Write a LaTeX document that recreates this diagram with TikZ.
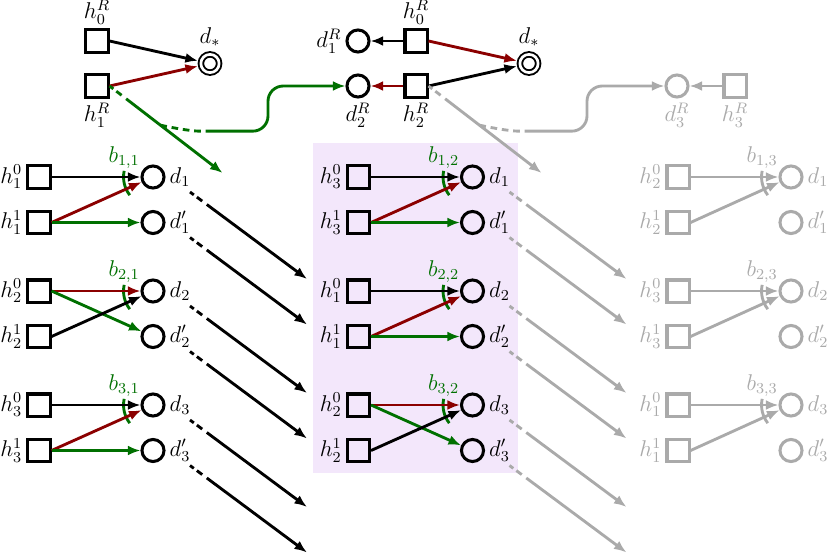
\documentclass[tikz,border=0pt]{standalone}
\usepackage{amsmath,amssymb}
\usepackage{tikz}
\usetikzlibrary{arrows.meta,calc,positioning}
\definecolor{DiagRed}{HTML}{8B0000}
\definecolor{DiagGreen}{HTML}{007000}
\definecolor{DiagGray}{HTML}{AAAAAA}
\definecolor{DiagViolet}{HTML}{F3E7FB}
\tikzset{
    % Larger labels
    every label/.style={font=\large, inner sep=2pt},
    % Square for h nodes
    hbox/.style={
        draw,
        rectangle,
        line width=1.6pt,
        minimum size=11.6pt,
        inner sep=0pt
    },
    % Circle for d nodes
    dcirc/.style={
        draw,
        circle,
        line width=1.6pt,
        minimum size=11.6pt,
        inner sep=0pt
    },
    % Double circle for d_*
    starcirc/.style={
        draw,
        circle,
        double,
        line width=1pt,
        double distance=1.4pt,
        minimum size=9.6pt,
        outer sep=1.7pt,
        inner sep=0pt
    },
    % Arrow styles
    myarrow/.style={
        -{Latex[length=6.6pt,width=5.2pt]},
        line width=1.5pt
    },
    redarrow/.style={
        myarrow,
        draw=DiagRed
    },
    greenarrow/.style={
        myarrow,
        draw=DiagGreen
    },
    % Dashed start of the wrap-around arrows
    wrapdash/.style={
        dash pattern=on 2.5pt off 2pt on 3.5pt off 3pt on 300pt off 1pt
    },
    curvedash/.style={
        dash pattern=on 3.5pt off 2.5pt on 3.5pt off 2.5pt on 3.5pt off 2.5pt on 3.5pt off 2.5pt on 600pt off 1pt
    },
    % Angle mark b
    bmark/.style={
        line width=1.5pt
    },
    blabel/.style={
        above,
        font=\large,
        inner sep=0.5pt
    }
}

\begin{document}
\begin{tikzpicture}[x=0.526pt,y=-0.526pt]
    \useasboundingbox (0,0) rectangle (831,555);
    \fill[DiagViolet] (313,143) rectangle (518,473);

    % top left
    \node[hbox,label=above:{$h_0^R$}] (hRa0) at (97,41) {};
    \node[hbox,label=below:{$h_1^R$}] (hRa1) at (97,86) {};
    \node[starcirc,label=above:{$d_*$}] (dsa) at (210,63.5) {};
    \draw[myarrow] (hRa0.east) -- (dsa);
    \draw[redarrow] (hRa1.east) -- (dsa);

    % top middle
    \node[dcirc,label=left:{$d_1^R$}] (dR1) at (358,41) {};
    \node[hbox,label=above:{$h_0^R$}] (hRb0) at (416,41) {};
    \node[dcirc,label=below:{$d_2^R$}] (dR2) at (358,86) {};
    \node[hbox,label=below:{$h_2^R$}] (hRb2) at (416,86) {};
    \node[starcirc,label=above:{$d_*$}] (dsb) at (529,63.5) {};
    \draw[myarrow] (hRb0) -- (dR1);
    \draw[redarrow] (hRb0.east) -- (dsb);
    \draw[redarrow] (hRb2) -- (dR2);
    \draw[myarrow] (hRb2.east) -- (dsb);

    \coordinate (ta) at ($(hRa1.east)+(113,87)$);
    \draw[greenarrow,wrapdash] (hRa1.east) -- (ta);
    \draw[greenarrow,curvedash,rounded corners=8pt] ($(hRa1.east)!0.45!(ta)$) to[out=-12,in=180] ++(55,6) -| ($(dR2)+(-90,0)$) -- (dR2);

    % column a
    \node[hbox,label=left:{$h_1^0$}] (ha1) at (39,177) {};
    \node[hbox,label=left:{$h_1^1$}] (ha2) at (39,222.5) {};
    \node[hbox,label=left:{$h_2^0$}] (ha3) at (39,291) {};
    \node[hbox,label=left:{$h_2^1$}] (ha4) at (39,336.5) {};
    \node[hbox,label=left:{$h_3^0$}] (ha5) at (39,405) {};
    \node[hbox,label=left:{$h_3^1$}] (ha6) at (39,450.5) {};
    \node[dcirc,label=right:{$d_1$}] (da1) at (153,177) {};
    \node[dcirc,label=right:{$d'_1$}] (da2) at (153,222.5) {};
    \node[dcirc,label=right:{$d_2$}] (da3) at (153,291) {};
    \node[dcirc,label=right:{$d'_2$}] (da4) at (153,336.5) {};
    \node[dcirc,label=right:{$d_3$}] (da5) at (153,405) {};
    \node[dcirc,label=right:{$d'_3$}] (da6) at (153,450.5) {};

    \draw[bmark,DiagGreen] ($(da1)+(168:15.5pt)$) node[blabel] {$b_{1,1}$} arc[start angle=168,end angle=218,radius=15.5pt];
    \draw[bmark,DiagGreen] ($(da3)+(168:15.5pt)$) node[blabel] {$b_{2,1}$} arc[start angle=168,end angle=218,radius=15.5pt];
    \draw[bmark,DiagGreen] ($(da5)+(168:15.5pt)$) node[blabel] {$b_{3,1}$} arc[start angle=168,end angle=218,radius=15.5pt];

    \draw[myarrow] (ha1) -- (da1);
    \draw[redarrow] (ha2.east) -- (da1);
    \draw[greenarrow] (ha2) -- (da2);
    \draw[redarrow] (ha3) -- (da3);
    \draw[greenarrow] (ha3.east) -- (da4);
    \draw[myarrow] (ha4.east) -- (da3);
    \draw[myarrow] (ha5) -- (da5);
    \draw[redarrow] (ha6.east) -- (da5);
    \draw[greenarrow] (ha6) -- (da6);

    \draw[myarrow,wrapdash] ($(da1)+(37,15)$) -- ++(117,87);
    \draw[myarrow,wrapdash] ($(da2)+(37,15)$) -- ++(117,87);
    \draw[myarrow,wrapdash] ($(da3)+(37,15)$) -- ++(117,87);
    \draw[myarrow,wrapdash] ($(da4)+(37,15)$) -- ++(117,87);
    \draw[myarrow,wrapdash] ($(da5)+(37,15)$) -- ++(117,87);
    \draw[myarrow,wrapdash] ($(da6)+(37,15)$) -- ++(117,87);

    % column b
    \node[hbox,label=left:{$h_3^0$}] (hb1) at (358.5,177) {};
    \node[hbox,label=left:{$h_3^1$}] (hb2) at (358.5,222.5) {};
    \node[hbox,label=left:{$h_1^0$}] (hb3) at (358.5,291) {};
    \node[hbox,label=left:{$h_1^1$}] (hb4) at (358.5,336.5) {};
    \node[hbox,label=left:{$h_2^0$}] (hb5) at (358.5,405) {};
    \node[hbox,label=left:{$h_2^1$}] (hb6) at (358.5,450.5) {};
    \node[dcirc,label=right:{$d_1$}] (db1) at (472.5,177) {};
    \node[dcirc,label=right:{$d'_1$}] (db2) at (472.5,222.5) {};
    \node[dcirc,label=right:{$d_2$}] (db3) at (472.5,291) {};
    \node[dcirc,label=right:{$d'_2$}] (db4) at (472.5,336.5) {};
    \node[dcirc,label=right:{$d_3$}] (db5) at (472.5,405) {};
    \node[dcirc,label=right:{$d'_3$}] (db6) at (472.5,450.5) {};

    \draw[bmark,DiagGreen] ($(db1)+(168:15.5pt)$) node[blabel] {$b_{1,2}$} arc[start angle=168,end angle=218,radius=15.5pt];
    \draw[bmark,DiagGreen] ($(db3)+(168:15.5pt)$) node[blabel] {$b_{2,2}$} arc[start angle=168,end angle=218,radius=15.5pt];
    \draw[bmark,DiagGreen] ($(db5)+(168:15.5pt)$) node[blabel] {$b_{3,2}$} arc[start angle=168,end angle=218,radius=15.5pt];

    \draw[myarrow] (hb1) -- (db1);
    \draw[redarrow] (hb2.east) -- (db1);
    \draw[greenarrow] (hb2) -- (db2);
    \draw[myarrow] (hb3) -- (db3);
    \draw[redarrow] (hb4.east) -- (db3);
    \draw[greenarrow] (hb4) -- (db4);
    \draw[redarrow] (hb5) -- (db5);
    \draw[greenarrow] (hb5.east) -- (db6);
    \draw[myarrow] (hb6.east) -- (db5);

    % greyed-out part
    \begin{scope}[color=DiagGray]
        \node[dcirc,label=below:{$d_3^R$}] (dR3) at (677,86) {};
        \node[hbox,label=below:{$h_3^R$}] (hRc3) at (735,86) {};
        \draw[myarrow] (hRc3) -- (dR3);

        \coordinate (tb) at ($(hRb2.east)+(113,87)$);
        \draw[myarrow,wrapdash] (hRb2.east) -- (tb);
        \draw[myarrow,curvedash,rounded corners=8pt] ($(hRb2.east)!0.45!(tb)$) to[out=-12,in=180] ++(55,6) -| ($(dR3)+(-90,0)$) -- (dR3);

        \draw[myarrow,wrapdash] ($(db1)+(37,15)$) -- ++(117,87);
        \draw[myarrow,wrapdash] ($(db2)+(37,15)$) -- ++(117,87);
        \draw[myarrow,wrapdash] ($(db3)+(37,15)$) -- ++(117,87);
        \draw[myarrow,wrapdash] ($(db4)+(37,15)$) -- ++(117,87);
        \draw[myarrow,wrapdash] ($(db5)+(37,15)$) -- ++(117,87);
        \draw[myarrow,wrapdash] ($(db6)+(37,15)$) -- ++(117,87);

        % column c
        \node[hbox,label=left:{$h_2^0$}] (hc1) at (678,177) {};
        \node[hbox,label=left:{$h_2^1$}] (hc2) at (678,222.5) {};
        \node[hbox,label=left:{$h_3^0$}] (hc3) at (678,291) {};
        \node[hbox,label=left:{$h_3^1$}] (hc4) at (678,336.5) {};
        \node[hbox,label=left:{$h_1^0$}] (hc5) at (678,405) {};
        \node[hbox,label=left:{$h_1^1$}] (hc6) at (678,450.5) {};
        \node[dcirc,label=right:{$d_1$}] (dc1) at (791,177) {};
        \node[dcirc,label=right:{$d'_1$}] (dc2) at (791,222.5) {};
        \node[dcirc,label=right:{$d_2$}] (dc3) at (791,291) {};
        \node[dcirc,label=right:{$d'_2$}] (dc4) at (791,336.5) {};
        \node[dcirc,label=right:{$d_3$}] (dc5) at (791,405) {};
        \node[dcirc,label=right:{$d'_3$}] (dc6) at (791,450.5) {};

        \draw[bmark] ($(dc1)+(168:15.5pt)$) node[blabel] {$b_{1,3}$} arc[start angle=168,end angle=218,radius=15.5pt];
        \draw[bmark] ($(dc3)+(168:15.5pt)$) node[blabel] {$b_{2,3}$} arc[start angle=168,end angle=218,radius=15.5pt];
        \draw[bmark] ($(dc5)+(168:15.5pt)$) node[blabel] {$b_{3,3}$} arc[start angle=168,end angle=218,radius=15.5pt];

        \draw[myarrow] (hc1) -- (dc1);
        \draw[myarrow] (hc2.east) -- (dc1);
        \draw[myarrow] (hc3) -- (dc3);
        \draw[myarrow] (hc4.east) -- (dc3);
        \draw[myarrow] (hc5) -- (dc5);
        \draw[myarrow] (hc6.east) -- (dc5);
    \end{scope}
\end{tikzpicture}
\end{document}
